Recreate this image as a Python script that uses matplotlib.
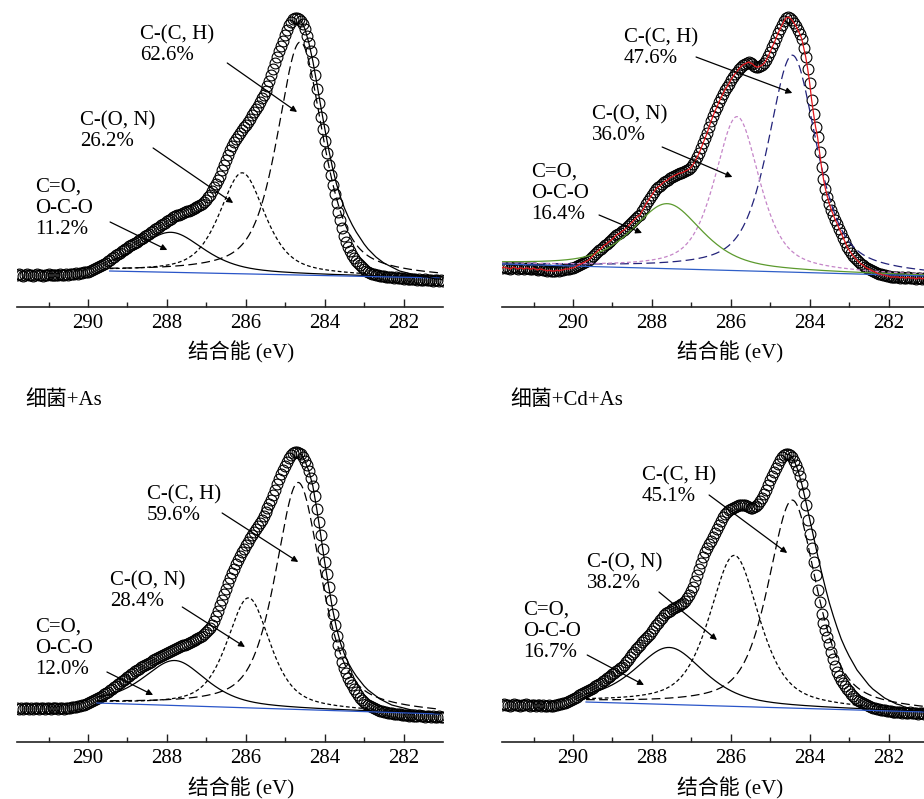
import numpy as np
import matplotlib
matplotlib.use("Agg")
import matplotlib.pyplot as plt

plt.rcParams['font.family'] = ['Liberation Serif', 'Noto Sans CJK SC']
plt.rcParams['font.size'] = 15

# ---------------- measured spectra (intensity a.u.), binding energy 291.80 -> 281.00 eV, 0.05 eV step
E_START = 291.8
E_STEP = 0.05

tl_counts = [
    32, 33, 32, 31, 32, 33, 32, 32, 31, 32, 33, 32, 32, 31, 32, 32, 33, 32, 32, 32,
    32, 32, 33, 32, 32, 33, 32, 33, 33, 33, 34, 33, 34, 34, 35, 35, 35, 36, 37, 38,
    39, 40, 41, 42, 43, 44, 46, 47, 49, 50, 52, 53, 54, 56, 57, 58, 59, 61, 62, 63,
    64, 65, 67, 68, 69, 71, 72, 73, 75, 76, 78, 79, 80, 82, 83, 84, 86, 87, 88, 90,
    91, 92, 92, 93, 94, 95, 96, 96, 97, 98, 99, 100, 101, 102, 103, 105, 107, 110, 112, 116,
    120, 123, 127, 131, 137, 142, 147, 152, 157, 161, 165, 168, 171, 174, 177, 180, 182, 185, 188, 192,
    195, 198, 201, 205, 209, 212, 216, 221, 226, 232, 238, 244, 250, 256, 261, 266, 272, 277, 282, 285,
    288, 289, 289, 288, 286, 283, 278, 271, 264, 256, 245, 232, 218, 204, 190, 178, 166, 154, 142, 132,
    122, 113, 104, 95, 87, 79, 71, 65, 60, 56, 52, 49, 46, 44, 42, 40, 38, 36, 35, 34,
    33, 33, 32, 32, 31, 31, 31, 30, 30, 30, 30, 29, 30, 29, 29, 29, 28, 29, 28, 28,
    28, 28, 28, 27, 28, 27, 27, 28, 27, 27, 27, 26, 27, 27, 26, 27, 26]

tr_counts = [
    39, 40, 39, 39, 38, 39, 40, 39, 38, 39, 39, 38, 39, 39, 38, 38, 39, 38, 37, 38,
    38, 37, 37, 36, 37, 36, 36, 36, 37, 36, 37, 37, 38, 38, 38, 39, 39, 40, 41, 42,
    43, 44, 45, 46, 47, 49, 51, 53, 55, 57, 58, 60, 62, 63, 65, 66, 68, 70, 72, 73,
    74, 76, 77, 79, 81, 83, 85, 87, 89, 91, 92, 96, 99, 103, 106, 109, 112, 115, 118, 120,
    121, 123, 125, 126, 127, 129, 130, 131, 132, 133, 134, 134, 135, 136, 137, 138, 140, 143, 146, 150,
    154, 159, 164, 169, 174, 180, 186, 191, 196, 200, 205, 209, 213, 217, 220, 223, 227, 230, 233, 235,
    238, 240, 242, 243, 244, 245, 244, 243, 241, 240, 240, 241, 242, 244, 247, 251, 255, 260, 264, 269,
    274, 278, 282, 286, 289, 290, 289, 287, 284, 281, 277, 273, 268, 259, 250, 238, 224, 207, 193, 180,
    170, 155, 140, 128, 118, 110, 103, 97, 92, 87, 83, 78, 74, 69, 65, 60, 57, 54, 51, 49,
    47, 45, 43, 42, 40, 39, 38, 37, 36, 35, 34, 33, 33, 32, 32, 31, 31, 30, 30, 30,
    30, 30, 29, 30, 29, 29, 30, 29, 29, 29, 28, 29, 29, 28, 29, 28, 28]

bl_counts = [
    34, 33, 34, 33, 34, 34, 33, 34, 33, 34, 34, 33, 34, 34, 33, 34, 34, 33, 34, 34,
    34, 33, 34, 34, 33, 34, 34, 34, 35, 35, 35, 36, 36, 37, 37, 38, 39, 40, 41, 42,
    43, 44, 45, 46, 48, 49, 50, 52, 53, 55, 56, 58, 59, 61, 62, 63, 65, 66, 68, 69,
    71, 72, 73, 75, 76, 77, 78, 79, 80, 82, 83, 84, 85, 86, 87, 88, 89, 90, 91, 92,
    93, 94, 95, 96, 97, 97, 98, 99, 100, 101, 102, 103, 104, 105, 106, 108, 110, 112, 114, 117,
    121, 126, 131, 137, 142, 148, 153, 159, 164, 169, 173, 178, 182, 186, 190, 193, 197, 200, 204, 207,
    210, 213, 216, 219, 222, 226, 230, 234, 238, 242, 247, 252, 258, 263, 268, 272, 276, 280, 284, 287,
    289, 290, 290, 289, 288, 285, 281, 277, 271, 264, 256, 246, 233, 220, 207, 193, 180, 168, 155, 142,
    128, 117, 106, 97, 89, 80, 74, 69, 64, 60, 57, 53, 50, 47, 44, 42, 40, 38, 37, 36,
    35, 34, 33, 32, 31, 31, 30, 30, 29, 29, 29, 28, 28, 28, 28, 27, 27, 27, 27, 26,
    27, 26, 26, 26, 27, 26, 26, 25, 26, 26, 25, 26, 25, 25, 26, 25, 25]

br_counts = [
    37, 38, 37, 37, 36, 37, 38, 37, 37, 36, 37, 37, 38, 37, 36, 37, 37, 36, 37, 37,
    36, 37, 36, 36, 37, 36, 36, 37, 37, 38, 38, 39, 39, 40, 41, 42, 43, 44, 45, 47,
    48, 49, 50, 51, 52, 53, 54, 56, 57, 58, 59, 61, 62, 64, 65, 66, 68, 69, 71, 72,
    74, 75, 77, 80, 82, 85, 88, 90, 93, 95, 97, 100, 102, 104, 106, 108, 111, 114, 117, 119,
    122, 124, 127, 129, 130, 131, 133, 134, 135, 136, 137, 138, 139, 141, 144, 147, 151, 155, 161, 167,
    173, 179, 185, 190, 194, 198, 201, 205, 209, 213, 217, 221, 225, 228, 230, 232, 233, 234, 235, 236,
    237, 237, 237, 237, 236, 235, 234, 234, 235, 236, 238, 241, 244, 248, 252, 257, 262, 266, 270, 274,
    278, 282, 285, 287, 288, 288, 287, 285, 281, 277, 272, 266, 258, 249, 237, 222, 208, 194, 180, 167,
    152, 140, 128, 119, 112, 105, 98, 90, 83, 76, 70, 66, 62, 59, 56, 53, 51, 48, 46, 44,
    42, 41, 40, 39, 38, 37, 36, 35, 34, 34, 33, 33, 32, 32, 32, 31, 31, 31, 30, 30,
    30, 30, 30, 29, 30, 29, 29, 30, 29, 29, 29, 28, 29, 29, 28, 29, 29]

# fitted envelope on the low-binding-energy flank (284.6 -> 281.0 eV, 0.1 eV step)
ENV_START = 284.6
ENV_STEP = 0.1
tl_envelope = [286, 278, 264, 246, 224, 201, 179, 158, 139, 123, 110, 99, 90, 82, 75, 69, 63, 58, 54, 50,
               47, 44, 42, 40, 38, 36, 35, 34, 33, 32, 31, 30, 30, 29, 28, 28, 27]
bl_envelope = [288, 281, 271, 256, 233, 207, 180, 156, 133, 114, 99, 88, 79, 72, 66, 61, 56, 52, 49, 46,
               43, 41, 39, 37, 36, 35, 34, 33, 32, 32, 31, 31, 30, 30, 29, 29, 29]
br_envelope = [288, 287, 282, 272, 258, 241, 223, 205, 187, 170, 154, 139, 126, 114, 103, 94, 86, 79, 72, 67,
               62, 57, 53, 50, 47, 44, 42, 40, 38, 37, 35, 34, 33, 33, 32, 31, 31]

# fitted components: C-(C,H), C-(O,N), C=O/O-C-O  (centre eV, height above background, FWHM eV)
tl_centers = [284.62, 286.09, 287.90]
tl_heights = [233, 101, 40]
tl_fwhm = [1.38, 1.37, 2.00]
tl_bg = [289.45, 36, 281.1, 29]

tr_centers = [284.44, 285.84, 287.61]
tr_heights = [217, 154, 65]
tr_fwhm = [1.45, 1.35, 2.10]
tr_bg = [291.8, 43, 281.0, 31]

bl_centers = [284.67, 285.93, 287.80]
bl_heights = [227, 110, 45]
bl_fwhm = [1.38, 1.30, 1.90]
bl_bg = [289.77, 39, 281.1, 28]

br_centers = [284.44, 285.91, 287.56]
br_heights = [208, 151, 57]
br_fwhm = [1.45, 1.50, 2.10]
br_bg = [289.67, 40, 281.1, 30]

species = ['C-(C, H)', 'C-(O, N)', 'C=O,\nO-C-O']
tl_pct = ['62.6%', '26.2%', '11.2%']
tr_pct = ['47.6%', '36.0%', '16.4%']
bl_pct = ['59.6%', '28.4%', '12.0%']
br_pct = ['45.1%', '38.2%', '16.7%']

titles = ['细菌+As', '细菌+Cd+As']
xticks_major = [290, 288, 286, 284, 282]
xticks_minor = [291, 289, 287, 285, 283]
xlabel = '结合能 (eV)'

ETA = 0.6


def pvoigt(E, c, h, w):
    x = (E - c) / (w / 2.0)
    return h * (ETA / (1 + x ** 2) + (1 - ETA) * np.exp(-np.log(2) * x ** 2))


W, H = 924, 799
fig = plt.figure(figsize=(W / 100, H / 100), dpi=100)


def rect(left_px, spine_px, w_px=426, h_px=307):
    return [left_px / W, (H - spine_px) / H, w_px / W, h_px / H]


panels = [
    dict(rect=rect(17, 307), y=tl_counts, env=tl_envelope, c=tl_centers, h=tl_heights, w=tl_fwhm, bg=tl_bg,
         pct=tl_pct, colors=['black', 'black', 'black', '#2a55c8', 'black'],
         text=[(288.68, 282), (290.20, 196), (291.35, 129)],
         arrows=[((286.47, 244), (284.70, 195)), ((288.35, 159), (286.32, 104)), ((289.44, 85), (287.99, 57))],
         labx=0.526, laby=-0.147),
    dict(rect=rect(502, 307), y=tr_counts, env=None, c=tr_centers, h=tr_heights, w=tr_fwhm, bg=tr_bg,
         pct=tr_pct, colors=['#23237a', '#c585c8', '#5c9a2e', '#2f5fc8', '#e3161c'],
         text=[(288.71, 279), (289.52, 202), (291.07, 144)],
         arrows=[((286.88, 250), (284.44, 214)), ((287.74, 160), (285.96, 130)), ((289.34, 92), (288.25, 74))],
         labx=0.535, laby=-0.147),
    dict(rect=rect(17, 742), y=bl_counts, env=bl_envelope, c=bl_centers, h=bl_heights, w=bl_fwhm, bg=bl_bg,
         pct=bl_pct, colors=['black', 'black', 'black', '#2a55c8', 'black'],
         text=[(288.50, 257), (289.44, 171), (291.35, 124)],
         arrows=[((286.60, 229), (284.67, 180)), ((287.61, 135), (286.02, 95)), ((289.52, 70), (288.35, 47))],
         labx=0.526, laby=-0.150),
    dict(rect=rect(502, 742), y=br_counts, env=br_envelope, c=br_centers, h=br_heights, w=br_fwhm, bg=br_bg,
         pct=br_pct, colors=['black', 'black', 'black', '#2a55c8', 'black'],
         text=[(288.25, 276), (289.64, 189), (291.27, 141)],
         arrows=[((286.55, 247), (284.57, 189)), ((287.82, 150), (286.35, 102)), ((289.64, 87), (288.20, 57))],
         labx=0.535, laby=-0.150),
]

styles = [(0, (7, 3.5)), (0, (3, 2)), '-']

for p in panels:
    ax = fig.add_axes(p['rect'])
    y = np.array(p['y'], dtype=float)
    E = E_START - E_STEP * np.arange(len(y))
    ax.plot(E, y, 'o', ms=7.8, mfc='none', mec='black', mew=0.8, zorder=2)

    e0, b0, e1, b1 = p['bg']
    Ef = np.linspace(e0, e1, 600)
    bg = b0 + (b1 - b0) * (Ef - e0) / (e1 - e0)
    for i in range(3):
        comp = pvoigt(Ef, p['c'][i], p['h'][i], p['w'][i])
        ax.plot(Ef, bg + comp, color=p['colors'][i], lw=0.9, linestyle=styles[i], zorder=3)
    ax.plot(Ef, bg, color=p['colors'][3], lw=0.9, zorder=3)

    # overall fit envelope
    if p['env'] is None:
        ax.plot(E, y, color=p['colors'][4], lw=0.9, zorder=4)
    else:
        env = np.array(p['env'], dtype=float)
        Ee = ENV_START - ENV_STEP * np.arange(len(env))
        ax.plot(Ee, env, color=p['colors'][4], lw=0.9, zorder=4)

    for i in range(3):
        ax.text(p['text'][i][0], p['text'][i][1], species[i] + '\n' + p['pct'][i],
                ha='left', va='top', fontsize=15, linespacing=1.15, zorder=5)
        tail, head = p['arrows'][i]
        ax.annotate('', xy=head, xytext=tail,
                    arrowprops=dict(arrowstyle='-|>', color='black', lw=0.9,
                                    mutation_scale=9, shrinkA=0, shrinkB=0), zorder=5)

    ax.set_xlim(291.8, 281.0)
    ax.set_ylim(0, 307)
    ax.set_xticks(xticks_major)
    ax.set_xticks(xticks_minor, minor=True)
    ax.set_yticks([])
    for s in ['top', 'right', 'left']:
        ax.spines[s].set_visible(False)
    ax.spines['bottom'].set_linewidth(1.2)
    ax.spines['bottom'].set_color('#222222')
    ax.tick_params(axis='x', which='major', direction='in', length=6, width=1.0,
                   pad=5, labelsize=15, color='#222222')
    ax.tick_params(axis='x', which='minor', direction='in', length=3.5, width=1.0, color='#222222')
    ax.patch.set_alpha(0)
    ax.set_xlabel(xlabel, fontsize=15)
    ax.xaxis.set_label_coords(p['labx'], p['laby'])
    ax.xaxis.label.set_va('center')

fig.text(25 / W, 1 - 400 / H, titles[0], ha='left', va='center', fontsize=15)
fig.text(510 / W, 1 - 400 / H, titles[1], ha='left', va='center', fontsize=15)

fig.savefig('out.png', dpi=100)
